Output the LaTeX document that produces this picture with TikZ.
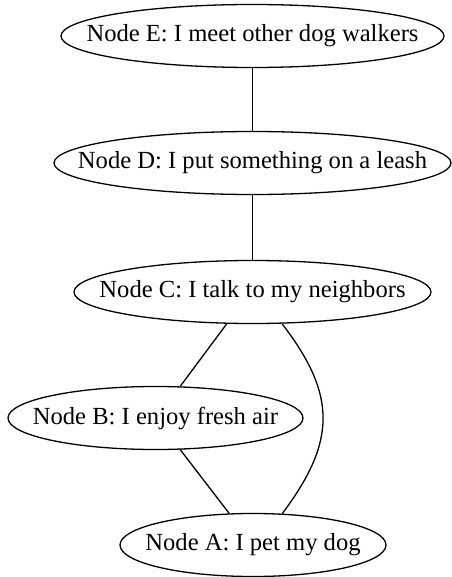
\documentclass[tikz,border=0pt]{standalone}
\usepackage{fontspec}
\setmainfont{Liberation Serif}
\usetikzlibrary{shapes.geometric}
\begin{document}
\begin{tikzpicture}[x=1pt,y=-1pt,
  ell/.style={draw, ellipse, inner sep=0pt, line width=1.3pt, minimum height=63pt,
    label={[font=\fontsize{24.6}{28}\selectfont, inner sep=0pt]center:#1}},
  edge/.style={line width=1.3pt}]
\useasboundingbox (0,0) rectangle (451,577);
\node[ell={Node E: I meet other dog walkers}, minimum width=383pt] (E) at (252.5,36) {};
\node[ell={Node D: I put something on a leash}, minimum width=397pt] (D) at (252.5,163) {};
\node[ell={Node C: I talk to my neighbors}, minimum width=357pt] (C) at (252.5,292) {};
\node[ell={Node B: I enjoy fresh air}, minimum width=295pt] (B) at (155.5,418) {};
\node[ell={Node A: I pet my dog}, minimum width=266pt] (A) at (253,545) {};
\draw[edge] (E.south) -- (D.north);
\draw[edge] (D.south) -- (C.north);
\draw[edge] (C.231) -- (B.52.6);
\draw[edge] (B.308) -- (A.127.8);
\draw[edge] (C.313) .. controls (336.7,395) and (336.7,441) .. (A.47);
\end{tikzpicture}
\end{document}
